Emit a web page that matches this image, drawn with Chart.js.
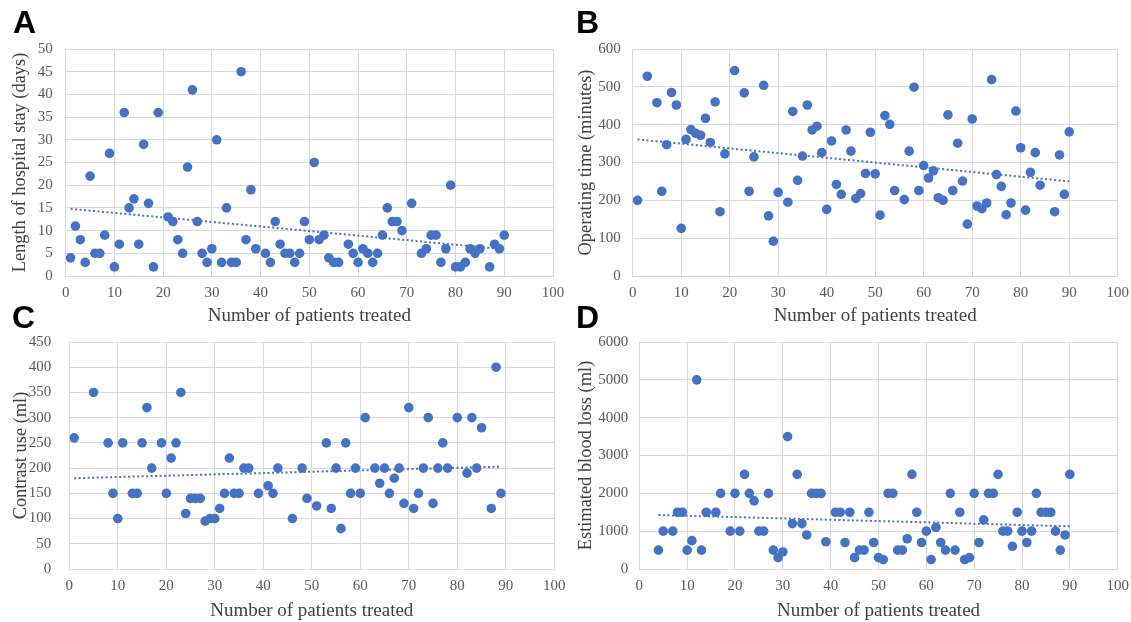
<!DOCTYPE html>
<html>
<head>
    <title>Learning curve scatter plots</title>
    <script src="https://cdn.jsdelivr.net/npm/chart.js"></script>
    <style>
        body {
            margin: 0;
            background: #ffffff;
            width: 1131px;
            height: 622px;
            position: relative;
            overflow: hidden;
        }
        .panel {
            position: absolute;
        }
        .letter {
            position: absolute;
            font-family: 'Liberation Sans', Arial, sans-serif;
            font-weight: bold;
            font-size: 32px;
            line-height: 32px;
            color: #000;
        }
    </style>
</head>
<body>
    <div class="panel" style="left:0px; top:36px; width:566px; height:292px;"><canvas id="chartA"></canvas></div>
    <div class="panel" style="left:566px; top:36px; width:565px; height:292px;"><canvas id="chartB"></canvas></div>
    <div class="panel" style="left:0px; top:330px; width:566px; height:292px;"><canvas id="chartC"></canvas></div>
    <div class="panel" style="left:566px; top:330px; width:565px; height:292px;"><canvas id="chartD"></canvas></div>

    <div class="letter" style="left:13px; top:6px;">A</div>
    <div class="letter" style="left:576px; top:6px;">B</div>
    <div class="letter" style="left:12px; top:301px;">C</div>
    <div class="letter" style="left:576px; top:301px;">D</div>

    <script>
        // A - length of hospital stay (days)
        var xA = [1,2,3,4,5,6,7,8,9,10,11,12,13,14,15,16,17,18,19,21,22,23,24,25,26,27,28,29,30,31,32,33,34,35,36,37,38,39,41,42,43,44,45,46,47,48,49,50,51,52,53,54,55,56,58,59,60,61,62,63,64,65,66,67,68,69,71,73,74,75,76,77,78,79,80,81,82,83,84,85,87,88,89,90];
        var yA = [4,11,8,3,22,5,5,9,27,2,7,36,15,17,7,29,16,2,36,13,12,8,5,24,41,12,5,3,6,30,3,15,3,3,45,8,19,6,5,3,12,7,5,5,3,5,12,8,25,8,9,4,3,3,7,5,3,6,5,3,5,9,15,12,12,10,16,5,6,9,9,3,6,20,2,2,3,6,5,6,2,7,6,9];
        var trendXA = [1, 90];
        var trendYA = [14.8, 5.9];

        // B - operating time (minutes)
        var xB = [1,3,5,6,7,8,9,10,11,12,13,14,15,16,17,18,19,21,23,24,25,27,28,29,30,32,33,34,35,36,37,38,39,40,41,42,43,44,45,46,47,48,49,50,51,52,53,54,56,57,58,59,60,61,62,63,64,65,66,67,68,69,70,71,72,73,74,75,76,77,78,79,80,81,82,83,84,87,88,89,90];
        var yB = [200,528,458,224,347,485,452,126,361,387,377,372,417,353,460,170,323,543,484,224,315,504,159,92,221,195,435,253,317,452,386,396,326,176,357,242,216,386,330,205,218,271,380,270,161,424,401,226,202,330,499,226,292,259,278,207,200,426,226,351,251,137,415,185,178,193,519,268,237,162,193,436,339,174,274,326,240,170,320,216,381];
        var trendXB = [1, 90];
        var trendYB = [361, 250];

        // C - contrast use (ml)
        var xC = [1,5,8,9,10,11,13,14,15,16,17,19,20,21,22,23,24,25,26,27,28,29,30,31,32,33,34,35,36,37,39,41,42,43,46,48,49,51,53,54,55,56,57,58,59,60,61,63,64,65,66,67,68,69,70,71,72,73,74,75,76,77,78,80,82,83,84,85,87,88,89];
        var yC = [260,350,250,150,100,250,150,150,250,320,200,250,150,220,250,350,110,140,140,140,95,100,100,120,150,220,150,150,200,200,150,165,150,200,100,200,140,125,250,120,200,80,250,150,200,150,300,200,170,200,150,180,200,130,320,120,150,200,300,130,200,250,200,300,190,300,200,280,120,400,150];
        var trendXC = [1, 89];
        var trendYC = [180, 203];

        // D - estimated blood loss (ml)
        var xD = [4,5,7,8,9,10,11,12,13,14,16,17,19,20,21,22,23,24,25,26,27,28,29,30,31,32,33,34,35,36,37,38,39,41,42,43,44,45,46,47,48,49,50,51,52,53,54,55,56,57,58,59,60,61,62,63,64,65,66,67,68,69,70,71,72,73,74,75,76,77,78,79,80,81,82,83,84,85,86,87,88,89,90];
        var yD = [500,1000,1000,1500,1500,500,750,5000,500,1500,1500,2000,1000,2000,1000,2500,2000,1800,1000,1000,2000,500,300,450,3500,1200,2500,1200,900,2000,2000,2000,720,1500,1500,700,1500,300,500,500,1500,700,300,250,2000,2000,500,500,800,2500,1500,700,1000,250,1100,700,500,2000,500,1500,250,300,2000,700,1300,2000,2000,2500,1000,1000,600,1500,1000,700,1000,2000,1500,1500,1500,1000,500,900,2500];
        var trendXD = [4, 90];
        var trendYD = [1427, 1128];

        var xTicks = [0,10,20,30,40,50,60,70,80,90,100];

        Chart.defaults.font.family = "'Liberation Serif', 'Times New Roman', serif";
        Chart.defaults.color = '#595959';

        function toPoints(xs, ys) {
            var pts = [];
            for (var i = 0; i < xs.length; i++) {
                pts.push({ x: xs[i], y: ys[i] });
            }
            return pts;
        }

        // no automatic label padding, the plot box is set by hand
        function noPad(scale) {
            scale.paddingTop = 0;
            scale.paddingBottom = 0;
            scale.paddingLeft = 0;
            scale.paddingRight = 0;
        }

        function createChart(id, xs, ys, tx, ty, yLabel, yMax, yStep, box) {
            var ctx = document.getElementById(id).getContext('2d');
            return new Chart(ctx, {
                type: 'scatter',
                data: {
                    datasets: [{
                        type: 'line',
                        data: toPoints(tx, ty),
                        borderColor: '#4472C4',
                        borderWidth: 2,
                        borderDash: [2, 2.5],
                        pointRadius: 0,
                        fill: false
                    }, {
                        data: toPoints(xs, ys),
                        backgroundColor: '#4472C4',
                        borderColor: '#4472C4',
                        borderWidth: 0,
                        pointRadius: 4.8,
                        pointHoverRadius: 4.8
                    }]
                },
                options: {
                    responsive: true,
                    maintainAspectRatio: false,
                    animation: false,
                    events: [],
                    layout: {
                        padding: { top: box.top, right: box.right, left: 0, bottom: 0 }
                    },
                    plugins: {
                        legend: { display: false },
                        tooltip: { enabled: false }
                    },
                    scales: {
                        x: {
                            type: 'linear',
                            min: 0,
                            max: 100,
                            afterBuildTicks: function(scale) {
                                scale.ticks = xTicks.map(function(v) { return { value: v }; });
                            },
                            afterFit: function(scale) { scale.height = box.xh; noPad(scale); },
                            grid: { color: '#d9d9d9', drawTicks: false },
                            border: { color: '#d9d9d9' },
                            ticks: { padding: 8, font: { size: 15 }, color: '#595959' },
                            title: {
                                display: true,
                                text: 'Number of patients treated',
                                font: { size: 19 },
                                color: '#404040',
                                padding: { top: 0, bottom: box.xtp }
                            }
                        },
                        y: {
                            type: 'linear',
                            min: 0,
                            max: yMax,
                            ticks: {
                                stepSize: yStep,
                                padding: box.ytick,
                                font: { size: 15 },
                                color: '#595959',
                                callback: function(v) { return String(v); }
                            },
                            afterFit: function(scale) { scale.width = box.yw; noPad(scale); },
                            grid: { color: '#d9d9d9', drawTicks: false },
                            border: { color: '#d9d9d9' },
                            title: {
                                display: true,
                                text: yLabel,
                                font: { size: 18.4 },
                                color: '#404040',
                                padding: { top: box.ytp, bottom: 0 }
                            }
                        }
                    }
                }
            });
        }

        createChart('chartA', xA, yA, trendXA, trendYA, 'Length of hospital stay (days)', 50, 5,
            { top: 13, right: 13, xh: 52, yw: 65.7, ytick: 13, ytp: 8.9, xtp: 0.6 });
        createChart('chartB', xB, yB, trendXB, trendYB, 'Operating time (minutes)', 600, 100,
            { top: 13, right: 13.3, xh: 52, yw: 66.7, ytick: 12, ytp: 9.6, xtp: 0.6 });
        createChart('chartC', xC, yC, trendXC, trendYC, 'Contrast use (ml)', 450, 50,
            { top: 12, right: 11.7, xh: 53, yw: 69.3, ytick: 18, ytp: 10.6, xtp: 0 });
        createChart('chartD', xD, yD, trendXD, trendYD, 'Estimated blood loss (ml)', 6000, 1000,
            { top: 12, right: 13.3, xh: 53, yw: 73.3, ytick: 11, ytp: 9.6, xtp: 0 });
    </script>
</body>
</html>
